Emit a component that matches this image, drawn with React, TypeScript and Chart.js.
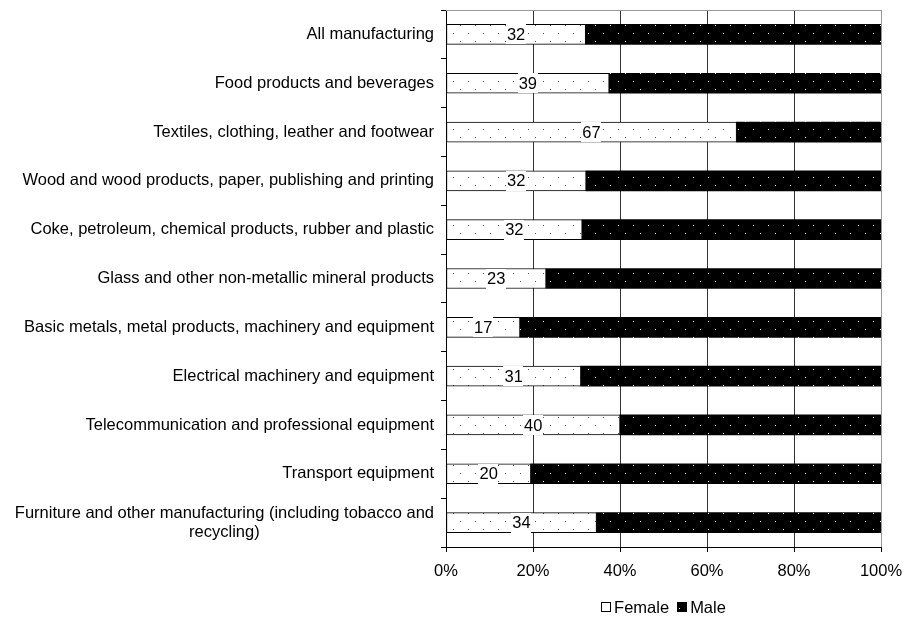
import React, { useEffect, useRef } from "react";
import { Chart, registerables } from "chart.js";

Chart.register(...registerables);

const categories: (string | string[])[] = [
  "All manufacturing",
  "Food products and beverages",
  "Textiles, clothing, leather and footwear",
  "Wood and wood products, paper, publishing and printing",
  "Coke, petroleum, chemical products, rubber and plastic",
  "Glass and other non-metallic mineral products",
  "Basic metals, metal products, machinery and equipment",
  "Electrical machinery and equipment",
  "Telecommunication and professional equipment",
  "Transport equipment",
  ["Furniture and other manufacturing (including tobacco and", "recycling)"],
];

// share of bar (%) as drawn
const femaleShare = [32.1, 37.5, 66.8, 32.2, 31.3, 23.0, 17.0, 31.0, 40.0, 19.5, 34.6];
const maleShare = [67.9, 62.5, 33.2, 67.8, 68.7, 77.0, 83.0, 69.0, 60.0, 80.5, 65.4];
// data labels shown on female bars
const femaleLabels = ["32", "39", "67", "32", "32", "23", "17", "31", "40", "20", "34"];
const xTicks = [0, 20, 40, 60, 80, 100];

const FONT = "'Liberation Sans', Arial, sans-serif";
const FS = 16.5;

function makePattern(bg: string, dot: string): CanvasPattern | string {
  const c = document.createElement("canvas");
  c.width = 15;
  c.height = 16;
  const g = c.getContext("2d");
  if (!g) return bg;
  g.fillStyle = bg;
  g.fillRect(0, 0, 15, 16);
  g.fillStyle = dot;
  g.fillRect(3, 1, 1, 1);
  g.fillRect(10, 9, 1, 1);
  const ctx = document.createElement("canvas").getContext("2d");
  return (ctx && ctx.createPattern(c, "repeat")) || bg;
}

export default function App() {
  const ref = useRef<HTMLCanvasElement | null>(null);

  useEffect(() => {
    if (!ref.current) return;
    const femalePattern = makePattern("#ffffff", "#555555");
    const malePattern = makePattern("#000000", "#ffffff");

    const extras = {
      id: "extras",
      afterDatasetsDraw(chart: any) {
        const ctx = chart.ctx;
        const area = chart.chartArea;
        ctx.save();
        ctx.strokeStyle = "#999";
        ctx.lineWidth = 1;
        ctx.beginPath();
        ctx.moveTo(area.left, area.top + 0.5);
        ctx.lineTo(area.right, area.top + 0.5);
        ctx.stroke();
        ctx.restore();

        const meta = chart.getDatasetMeta(0);
        ctx.save();
        ctx.font = `${FS}px ${FONT}`;
        ctx.textAlign = "center";
        ctx.textBaseline = "middle";
        meta.data.forEach((el: any, i: number) => {
          const cx = (el.base + el.x) / 2;
          const cy = el.y;
          const t = femaleLabels[i];
          const w = ctx.measureText(t).width;
          ctx.fillStyle = "#fff";
          ctx.fillRect(Math.round(cx - w / 2 - 1), Math.round(cy - 10), Math.round(w + 2), 20);
          ctx.fillStyle = "#000";
          ctx.fillText(t, cx, cy + 1);
        });
        ctx.restore();
      },
      afterDraw(chart: any) {
        const ctx = chart.ctx;
        const area = chart.chartArea;
        const yScale = chart.scales.y;
        ctx.save();
        ctx.font = `${FS}px ${FONT}`;
        ctx.fillStyle = "#000";
        ctx.textBaseline = "middle";
        const rightEdge = area.left - 12;
        categories.forEach((lab, i) => {
          const y = yScale.getPixelForTick(i);
          const lines = Array.isArray(lab) ? lab : [lab];
          const widths = lines.map((l) => ctx.measureText(l).width);
          const maxW = Math.max(...widths);
          const lh = 19;
          lines.forEach((l, j) => {
            const ly = y + (j - (lines.length - 1) / 2) * lh;
            if (lines.length === 1) {
              ctx.textAlign = "right";
              ctx.fillText(l, rightEdge, ly);
            } else {
              ctx.textAlign = "center";
              ctx.fillText(l, rightEdge - maxW / 2, ly);
            }
          });
        });
        ctx.restore();

        ctx.save();
        ctx.font = `${FS}px ${FONT}`;
        ctx.textBaseline = "middle";
        ctx.textAlign = "left";
        const box = 10;
        const gap = 3;
        const sep = 8;
        const items = [
          { text: "Female", fill: "#fff", dot: null as string | null },
          { text: "Male", fill: "#000", dot: "#fff" },
        ];
        const tw = items.map((it) => ctx.measureText(it.text).width);
        const total = items.reduce((s, _it, k) => s + box + gap + tw[k], 0) + sep;
        let x = (area.left + area.right) / 2 - total / 2;
        const ly = 607;
        items.forEach((it, k) => {
          ctx.fillStyle = it.fill;
          ctx.fillRect(Math.round(x), ly - 5, box, box);
          ctx.strokeStyle = "#000";
          ctx.lineWidth = 1;
          ctx.strokeRect(Math.round(x) + 0.5, ly - 5 + 0.5, box - 1, box - 1);
          if (it.dot) {
            ctx.fillStyle = it.dot;
            ctx.fillRect(Math.round(x) + 2, ly + 1, 1, 1);
          }
          ctx.fillStyle = "#000";
          ctx.fillText(it.text, x + box + gap, ly + 1);
          x += box + gap + tw[k] + sep;
        });
        ctx.restore();
      },
    };

    const chart = new Chart(ref.current, {
      type: "bar",
      data: {
        labels: categories.map((c) => (Array.isArray(c) ? c.join(" ") : c)),
        datasets: [
          {
            label: "Female",
            data: femaleShare,
            backgroundColor: femalePattern as any,
            borderColor: "#000",
            borderWidth: 1,
            borderSkipped: false,
            barThickness: 20,
          },
          {
            label: "Male",
            data: maleShare,
            backgroundColor: malePattern as any,
            borderColor: "#000",
            borderWidth: 0,
            barThickness: 20,
          },
        ],
      },
      options: {
        indexAxis: "y",
        animation: false,
        responsive: true,
        maintainAspectRatio: false,
        layout: { padding: { top: 10, right: 32, left: 0, bottom: 0 } },
        plugins: {
          legend: { display: false },
          tooltip: { enabled: false },
        },
        scales: {
          x: {
            stacked: true,
            min: 0,
            max: 100,
            afterBuildTicks: (scale: any) => {
              scale.ticks = xTicks.map((v) => ({ value: v }));
            },
            afterFit: (scale: any) => {
              scale.height = 70;
            },
            ticks: {
              color: "#000",
              font: { family: FONT, size: FS },
              padding: 10,
              maxRotation: 0,
              callback: (v: any) => `${v}%`,
            },
            grid: {
              color: (c: any) => (c.tick && c.tick.value === 100 ? "#999" : "#333"),
              tickColor: "#000",
              tickLength: 5,
              lineWidth: 1,
            },
            border: { display: true, color: "#000", width: 1 },
          },
          y: {
            stacked: true,
            afterFit: (scale: any) => {
              scale.width = 446;
            },
            ticks: { display: false },
            grid: {
              drawOnChartArea: false,
              drawTicks: true,
              tickLength: 5,
              tickColor: "#000",
              color: "#000",
              offset: true,
            },
            border: { display: true, color: "#000", width: 1 },
          },
        },
      },
      plugins: [extras],
    });

    return () => chart.destroy();
  }, []);

  return (
    <div style={{ position: "fixed", left: 0, top: 0, width: 913, height: 617, background: "#fff" }}>
      <canvas ref={ref} />
    </div>
  );
}
